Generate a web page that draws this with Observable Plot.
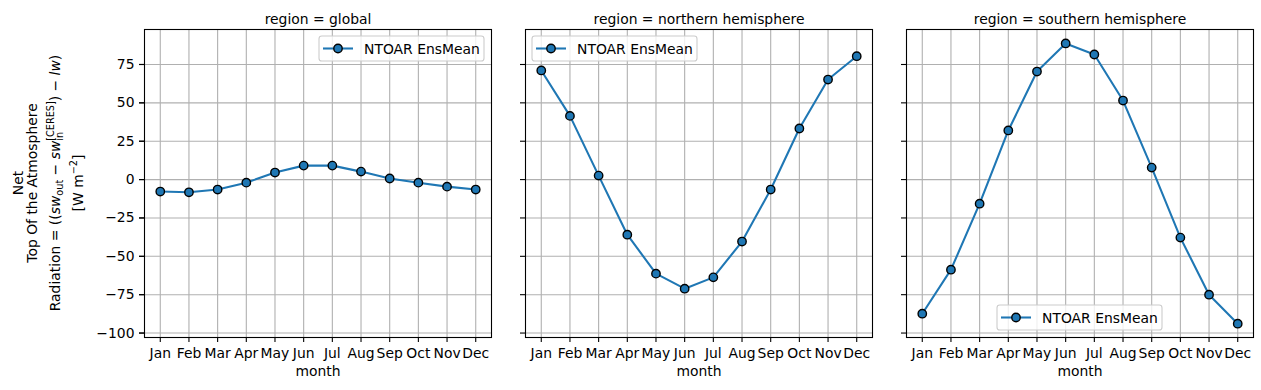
<!DOCTYPE html>
<html><head><meta charset="utf-8">
<script src="https://cdn.jsdelivr.net/npm/d3@7"></script>
<script src="https://cdn.jsdelivr.net/npm/@observablehq/plot@0.6"></script>
<style>body{margin:0;background:#fff} svg{display:block}</style>
</head><body><div id="chart"></div>
<script>
const months = ["Jan","Feb","Mar","Apr","May","Jun","Jul","Aug","Sep","Oct","Nov","Dec"];
const regions = ["global","northern hemisphere","southern hemisphere"];
const globalValues   = [-7.8, -8.3, -6.5, -2.0, 4.6, 9.1, 9.1, 5.2, 0.7, -2.0, -4.6, -6.5];
const northernValues = [71.1, 41.5, 2.6, -35.9, -61.3, -71.1, -63.7, -40.4, -6.5, 33.3, 65.2, 80.4];
const southernValues = [-87.4, -58.7, -15.7, 32.0, 70.4, 88.7, 81.5, 51.5, 7.8, -37.8, -75.0, -93.9];
const yTicks = [-100, -75, -50, -25, 0, 25, 50, 75];
const seriesName = "NTOAR EnsMean";
const legendAnchors = ["upper right", "upper left", "lower center"];

const table = [];
[globalValues, northernValues, southernValues].forEach((vals, i) =>
  vals.forEach((v, j) => table.push({region: regions[i], month: months[j], value: v})));

const font = "DejaVu Sans, sans-serif";
const blue = "#1f77b4";
const M = {top: 29, bottom: 53, left: 144, right: 8};
const H = 390;
const fmt = d3.format("d");

const plot = Plot.plot({
  width: 1261, height: H,
  marginLeft: M.left, marginRight: M.right, marginTop: M.top, marginBottom: M.bottom,
  style: {fontFamily: font, fontSize: "13.9px", background: "white", color: "black"},
  fx: {domain: regions, paddingInner: 34/381, paddingOuter: 0, round: false, label: null},
  x: {type: "point", domain: months, padding: 0.55, round: false, label: null},
  y: {domain: [-102.9, 97.8], label: null},
  marks: [
    Plot.gridX({stroke: "#b0b0b0", strokeOpacity: 1, strokeWidth: 1.1}),
    Plot.gridY(yTicks, {stroke: "#b0b0b0", strokeOpacity: 1, strokeWidth: 1.1}),
    Plot.frame({stroke: "black", strokeWidth: 1.1}),
    Plot.axisY(yTicks, {tickSize: 5, text: null, label: null, facetAnchor: null, strokeWidth: 1.1}),
    Plot.axisY(yTicks, {tickSize: 5, tickPadding: 5, label: null, fontSize: 13.9, strokeWidth: 1.1, tickFormat: fmt}),
    Plot.axisX({tickSize: 5, tickPadding: 6, label: null, fontSize: 13.9, strokeWidth: 1.1}),
    Plot.axisFx({anchor: "top", label: null, tickSize: 0, tickPadding: 6, fontSize: 13.9,
      tickFormat: d => `region = ${d}`}),
    Plot.text(regions, {fx: d => d, text: () => "month", frameAnchor: "bottom", dy: 38, fontSize: 13.9}),
    Plot.line(table, {fx: "region", x: "month", y: "value", stroke: blue, strokeWidth: 2.08}),
    Plot.dot(table, {fx: "region", x: "month", y: "value", r: 4.2, fill: blue, stroke: "black", strokeWidth: 1.39})
  ]
});
document.getElementById("chart").appendChild(plot);

// Legends
const svg = d3.select(plot);
const fxs = plot.scale("fx");
const bw = fxs.bandwidth;
const frameTop = M.top, frameBottom = H - M.bottom;
const LW = 165, LH = 25, pad = 7;
regions.forEach((r, i) => {
  const x0 = fxs.apply(r);
  const a = legendAnchors[i];
  let L, T;
  if (a === "upper right") { L = x0 + bw - pad - LW; T = frameTop + pad; }
  else if (a === "upper left") { L = x0 + pad; T = frameTop + pad; }
  else { L = x0 + bw / 2 - LW / 2; T = frameBottom - pad - LH; }
  const g = svg.append("g");
  g.append("rect").attr("x", L).attr("y", T).attr("width", LW).attr("height", LH)
    .attr("rx", 2.8).attr("fill", "white").attr("fill-opacity", 0.8)
    .attr("stroke", "#cccccc").attr("stroke-width", 1.1);
  const cy = T + LH / 2;
  g.append("line").attr("x1", L + 4).attr("x2", L + 34).attr("y1", cy).attr("y2", cy)
    .attr("stroke", blue).attr("stroke-width", 2.08);
  g.append("circle").attr("cx", L + 19).attr("cy", cy).attr("r", 4.2)
    .attr("fill", blue).attr("stroke", "black").attr("stroke-width", 1.39);
  g.append("text").attr("x", L + 45).attr("y", cy + 5).attr("font-family", font)
    .attr("text-anchor", "start")
    .attr("font-size", 13.9).attr("fill", "black").text(seriesName);
});

// Y label
const yl = svg.append("g").attr("font-family", font).attr("font-size", 13.9)
  .attr("text-anchor", "middle").attr("fill", "black");
const cyL = (frameTop + frameBottom) / 2;
function yline(x) { return yl.append("text").attr("transform", `translate(${x},${cyL}) rotate(-90)`); }
yline(23).text("Net");
yline(37).text("Top Of the Atmosphere");
{
  const t = yline(60);
  t.append("tspan").text("Radiation = ((");
  t.append("tspan").attr("font-style", "italic").text("sw");
  t.append("tspan").attr("font-size", 9.7).attr("dy", 3).text("out");
  t.append("tspan").attr("dy", -3).text(" − ");
  t.append("tspan").attr("font-style", "italic").text("sw");
  t.append("tspan").attr("font-size", 9.7).attr("dy", 3).text("in");
  t.append("tspan").attr("font-size", 9.7).attr("dx", -8.85).attr("dy", -9).text("[CERES]");
  t.append("tspan").attr("dy", 6).text(") − ");
  t.append("tspan").attr("font-style", "italic").text("lw");
  t.append("tspan").text(")");
}
{
  const t = yline(83);
  t.append("tspan").text("[W m");
  t.append("tspan").attr("font-size", 9.7).attr("dy", -6).text("−2");
  t.append("tspan").attr("dy", 6).text("]");
}
</script>
</body></html>
